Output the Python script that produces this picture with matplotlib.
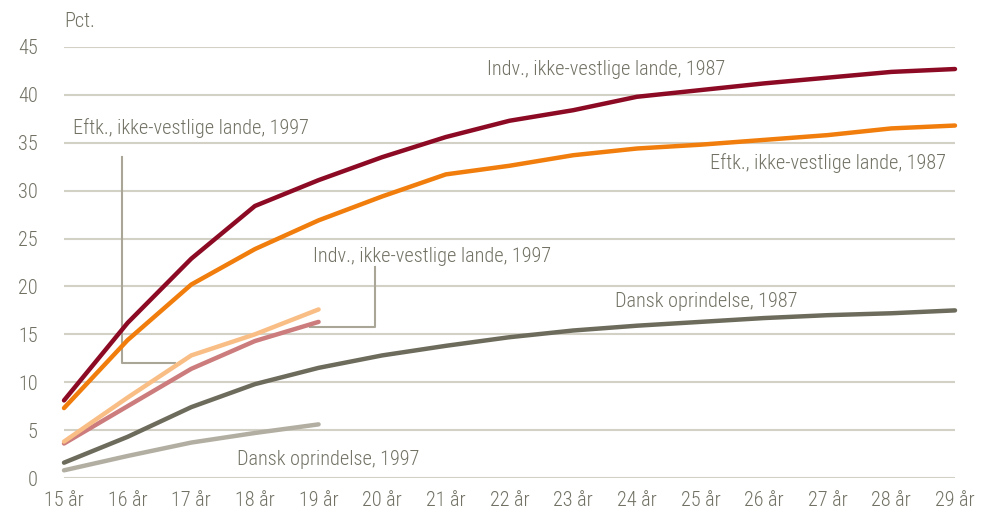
import matplotlib
matplotlib.use("Agg")
import matplotlib.pyplot as plt
from matplotlib import font_manager

# Data: share (pct.) by age
ages = list(range(15, 30))
age_labels = [f"{a} år" for a in ages]

indv_1987 = [8.1, 16.2, 22.9, 28.4, 31.1, 33.5, 35.6, 37.3, 38.4, 39.8, 40.5, 41.2, 41.8, 42.4, 42.7]
eftk_1987 = [7.3, 14.4, 20.2, 23.9, 26.9, 29.4, 31.7, 32.6, 33.7, 34.4, 34.8, 35.3, 35.8, 36.5, 36.8]
dansk_1987 = [1.6, 4.3, 7.4, 9.8, 11.5, 12.8, 13.8, 14.7, 15.4, 15.9, 16.3, 16.7, 17.0, 17.2, 17.5]

ages_1997 = [15, 16, 17, 18, 19]
eftk_1997 = [3.8, 8.4, 12.8, 15.0, 17.6]
indv_1997 = [3.6, 7.5, 11.4, 14.3, 16.3]
dansk_1997 = [0.8, 2.3, 3.7, 4.7, 5.6]

yticks = [0, 5, 10, 15, 20, 25, 30, 35, 40, 45]

# Pick a narrow sans face if one is available
fonts = font_manager.fontManager.ttflist
names = {f.name for f in fonts}
family, stretch = "DejaVu Sans", "normal"
for cand in ["Liberation Sans Narrow", "Roboto Condensed", "Open Sans Condensed",
             "Noto Sans Condensed", "Arial Narrow"]:
    if cand in names:
        family = cand
        break
else:
    cond = [f for f in fonts if f.name == "DejaVu Sans" and f.stretch in ("condensed", "semi-condensed")
            and f.style == "normal"]
    if cond:
        stretch = "condensed"
    elif "Liberation Sans" in names:
        family = "Liberation Sans"
plt.rcParams["font.family"] = [family, "DejaVu Sans"]
plt.rcParams["font.stretch"] = stretch
plt.rcParams["font.weight"] = "light"

text_col = "#727164"
grid_col = "#d3d0c6"
lead_col = "#a9a698"

fig = plt.figure(figsize=(9.97, 5.19), dpi=100)
ax = fig.add_axes([64 / 997, 1 - 478 / 519, (955 - 64) / 997, (478 - 47) / 519])

# Size the text so the long labels span about 239 px
renderer = fig.canvas.get_renderer()
probe = fig.text(0, 0, "Indv., ikke-vestlige lande, 1987", fontsize=14)
w = probe.get_window_extent(renderer).width
probe.remove()
fs = max(12.0, min(16.0, 14 * 239 / w))

ax.set_xlim(15, 29)
ax.set_ylim(0, 45)

for y in yticks:
    ax.axhline(y, color=grid_col, lw=1.5, zorder=1)

lw = 3.2
series = [
    (ages, dansk_1987, "#6d6c5c"),
    (ages_1997, dansk_1997, "#b2afa2"),
    (ages_1997, indv_1997, "#cc7c7c"),
    (ages_1997, eftk_1997, "#f9be86"),
    (ages, eftk_1987, "#f07d0c"),
    (ages, indv_1987, "#8c0a24"),
]
for xs, ys, c in series:
    ax.plot(xs, ys, color=c, lw=lw, solid_capstyle="round", solid_joinstyle="round",
            zorder=3, clip_on=False)

# Leader lines
ax.plot([15.91, 15.91, 16.74], [33.5, 12.0, 12.0], color=lead_col, lw=1.5, zorder=2)
ax.plot([18.87, 19.89, 19.89], [15.8, 15.8, 22.0], color=lead_col, lw=1.5, zorder=2)

ax.text(15.14, 36.5, "Eftk., ikke-vestlige lande, 1997", color=text_col, fontsize=fs,
        ha="left", va="center")
ax.text(21.65, 42.6, "Indv., ikke-vestlige lande, 1987", color=text_col, fontsize=fs,
        ha="left", va="center")
ax.text(28.86, 32.9, "Eftk., ikke-vestlige lande, 1987", color=text_col, fontsize=fs,
        ha="right", va="center")
ax.text(18.91, 23.1, "Indv., ikke-vestlige lande, 1997", color=text_col, fontsize=fs,
        ha="left", va="center")
ax.text(23.66, 18.4, "Dansk oprindelse, 1987", color=text_col, fontsize=fs,
        ha="left", va="center")
ax.text(17.72, 1.9, "Dansk oprindelse, 1997", color=text_col, fontsize=fs,
        ha="left", va="center")

ax.text(0.0, 1.0 + 25 / 431, "Pct.", transform=ax.transAxes, color=text_col,
        fontsize=fs, ha="left", va="center")

ax.set_xticks(ages)
ax.set_xticklabels(age_labels)
ax.set_yticks(yticks)
ax.tick_params(axis="both", length=0, labelsize=fs, labelcolor=text_col)
ax.tick_params(axis="y", pad=19)
ax.tick_params(axis="x", pad=9)
for s in ax.spines.values():
    s.set_visible(False)

fig.savefig("out.png", dpi=100)
